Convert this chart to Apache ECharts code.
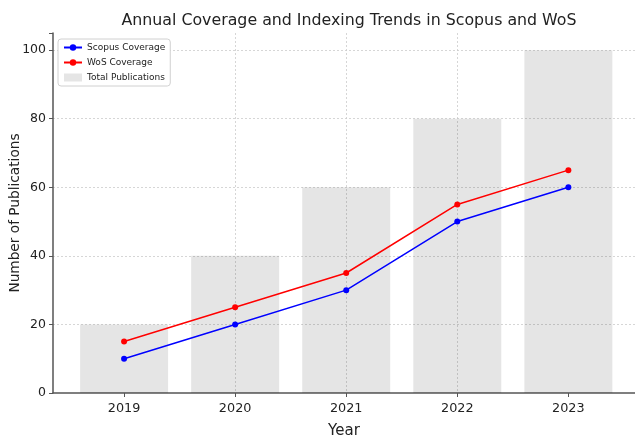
<!DOCTYPE html>
<html>
<head>
<meta charset="utf-8">
<script src="https://cdn.jsdelivr.net/npm/echarts@6/dist/echarts.min.js"></script>
<style>
  html, body { margin: 0; padding: 0; background: #fff; }
  #chart { width: 635px; height: 442px; }
</style>
</head>
<body>
<div id="chart"></div>
<script>
  // data
  const years = [2019, 2020, 2021, 2022, 2023]
  const totalPublications = [20, 40, 60, 80, 100]
  const scopusCoverage = [10, 20, 30, 50, 60]
  const wosCoverage = [15, 25, 35, 55, 65]
  const yTicks = [0, 20, 40, 60, 80, 100]

  const pairs = vals => years.map((y, i) => [y, vals[i]])
  const font = 'DejaVu Sans'

  const chart = echarts.init(document.getElementById('chart'))
  chart.setOption({
    animation: false,
    textStyle: { fontFamily: font },
    title: {
      text: 'Annual Coverage and Indexing Trends in Scopus and WoS',
      left: 344, top: 8, textAlign: 'center',
      textStyle: { fontFamily: font, fontSize: 15.8, fontWeight: 'normal', color: '#222' }
    },
    grid: { left: 53, right: 0, top: 33, bottom: 49, outerBoundsMode: 'none' },
    legend: {
      left: 58, top: 39, orient: 'vertical', itemGap: 6,
      itemWidth: 18, itemHeight: 8,
      padding: [4, 5, 4, 5],
      backgroundColor: '#fff', borderColor: '#d0d0d0', borderWidth: 1, borderRadius: 3,
      textStyle: { fontFamily: font, fontSize: 9, color: '#222' },
      data: [
        { name: 'Scopus Coverage' },
        { name: 'WoS Coverage' },
        { name: 'Total Publications', icon: 'rect' }
      ]
    },
    xAxis: {
      type: 'value', min: 2018.36, max: 2023.6,
      name: 'Year', nameLocation: 'middle', nameGap: 31, nameMoveOverlap: false,
      nameTextStyle: { fontFamily: font, fontSize: 15, color: '#222' },
      axisLine: { show: true, lineStyle: { color: '#555', width: 1.5 } },
      axisTick: { show: true, length: 4, customValues: years, lineStyle: { color: '#555' } },
      axisLabel: { customValues: years, fontSize: 12.8, color: '#222', margin: 9, formatter: v => String(v) },
      splitLine: { show: true, showMinLine: false, showMaxLine: false,
        lineStyle: { color: '#cccccc', type: [2, 2], width: 0.8 } }
    },
    yAxis: {
      type: 'value', min: 0, max: 105, interval: 20,
      name: 'Number of Publications', nameLocation: 'middle', nameGap: 31, nameMoveOverlap: false,
      nameTextStyle: { fontFamily: font, fontSize: 13.7, color: '#222' },
      axisLine: { show: true, lineStyle: { color: '#555', width: 1.5 } },
      axisTick: { show: true, length: 4, lineStyle: { color: '#555' } },
      axisLabel: { fontSize: 12.5, color: '#222', margin: 7,
        formatter: v => yTicks.includes(v) ? String(v) : '' },
      splitLine: { show: true, showMinLine: false, showMaxLine: false,
        lineStyle: { color: '#cccccc', type: [2, 2], width: 0.8 } }
    },
    series: [
      {
        name: 'Total Publications', type: 'bar', barWidth: 88,
        itemStyle: { color: 'rgba(0,0,0,0.1)' },
        data: pairs(totalPublications), z: 1
      },
      {
        name: 'Scopus Coverage', type: 'line', symbol: 'circle', symbolSize: 6,
        lineStyle: { color: '#0000ff', width: 1.5 }, itemStyle: { color: '#0000ff' },
        data: pairs(scopusCoverage), z: 3
      },
      {
        name: 'WoS Coverage', type: 'line', symbol: 'circle', symbolSize: 6,
        lineStyle: { color: '#ff0000', width: 1.5 }, itemStyle: { color: '#ff0000' },
        data: pairs(wosCoverage), z: 3
      }
    ]
  })
</script>
</body>
</html>
